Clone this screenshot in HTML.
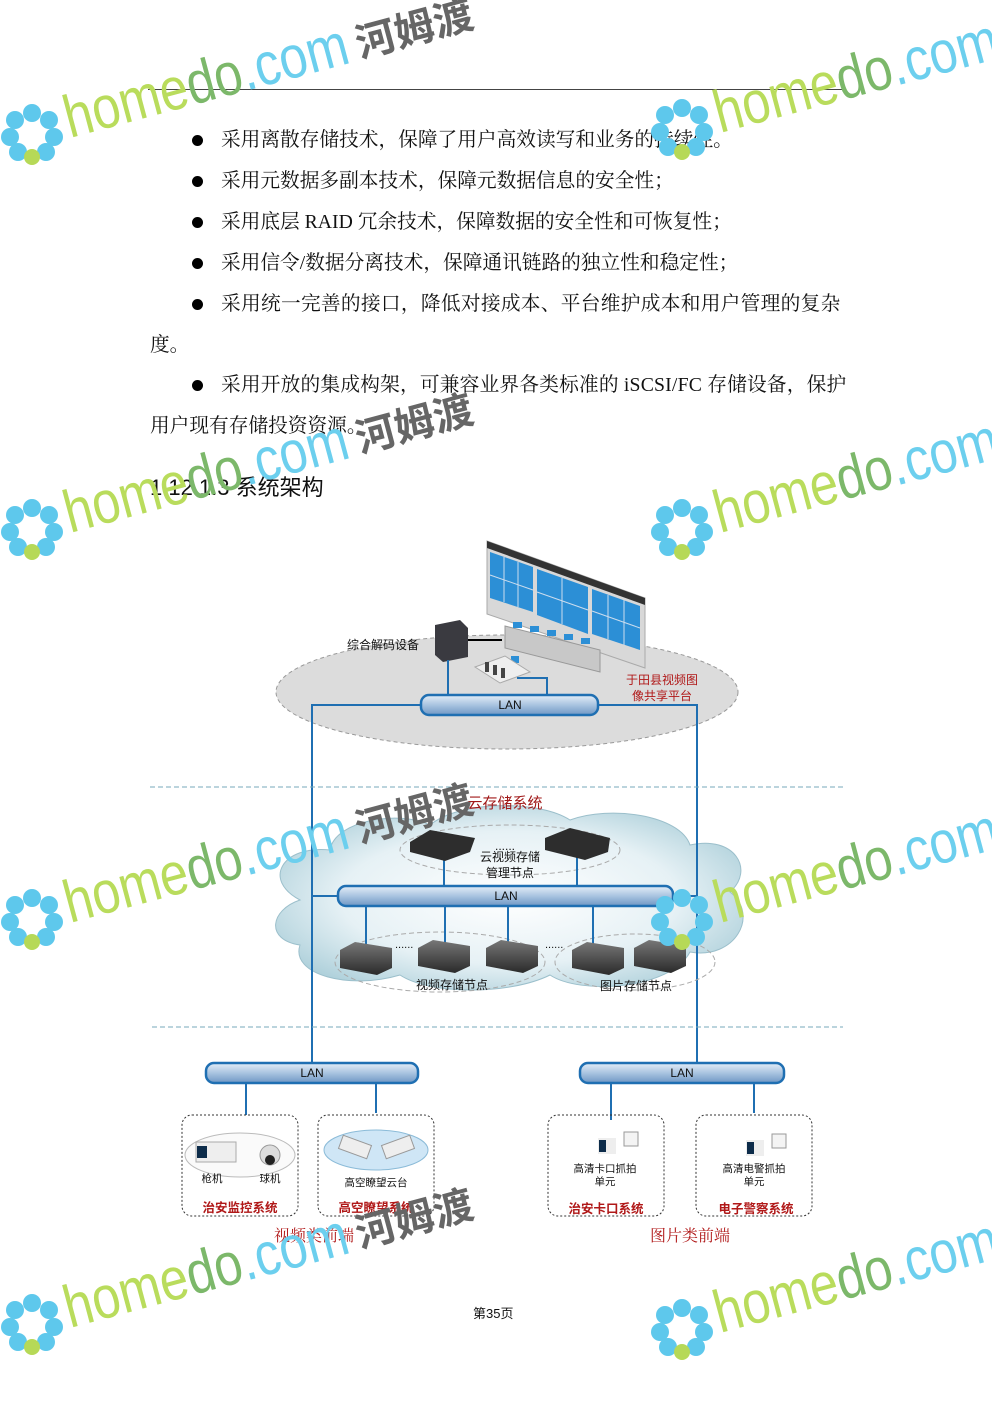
<!DOCTYPE html>
<html><head><meta charset="utf-8"><style>
html,body{margin:0;padding:0;background:#fff}
body{width:992px;height:1403px;position:relative;overflow:hidden;font-family:"Liberation Serif","Noto Serif CJK SC",serif;color:#111}
.l{position:absolute;white-space:nowrap;font-size:19.7px;line-height:24px}
.b{position:absolute;width:11px;height:11px;border-radius:50%;background:#000}
svg{position:absolute;left:0;top:0}
</style></head><body>
<div style="position:absolute;left:148px;top:89px;width:695px;height:1px;background:#444"></div>
<div class="b" style="left:192px;top:135px"></div><div class="l" style="left:221px;top:128px">采用离散存储技术，保障了用户高效读写和业务的持续性。</div>
<div class="b" style="left:192px;top:176px"></div><div class="l" style="left:221px;top:169px">采用元数据多副本技术，保障元数据信息的安全性；</div>
<div class="b" style="left:192px;top:217px"></div><div class="l" style="left:221px;top:210px">采用底层 RAID 冗余技术，保障数据的安全性和可恢复性；</div>
<div class="b" style="left:192px;top:258px"></div><div class="l" style="left:221px;top:251px">采用信令/数据分离技术，保障通讯链路的独立性和稳定性；</div>
<div class="b" style="left:192px;top:299px"></div><div class="l" style="left:221px;top:292px;letter-spacing:0.3px">采用统一完善的接口，降低对接成本、平台维护成本和用户管理的复杂</div>
<div class="l" style="left:150px;top:333px">度。</div>
<div class="b" style="left:192px;top:380px"></div><div class="l" style="left:221px;top:373px;letter-spacing:0.2px">采用开放的集成构架，可兼容业界各类标准的 iSCSI/FC 存储设备，保护</div>
<div class="l" style="left:150px;top:414px">用户现有存储投资资源。</div>
<div class="l" style="left:150px;top:474px;font-family:'Liberation Sans','Noto Sans CJK SC',sans-serif;font-size:22px;line-height:28px">1.12.1.3 系统架构</div>
<div style="position:absolute;left:473px;top:1303px;font-size:13px;font-family:'Liberation Sans','Noto Sans CJK SC',sans-serif">第35页</div>

<svg width="992" height="1403" viewBox="0 0 992 1403" font-family="Liberation Sans, Noto Sans CJK SC, sans-serif">
<defs>
<linearGradient id="pipe" x1="0" y1="0" x2="0" y2="1"><stop offset="0" stop-color="#e4eef8"/><stop offset="0.5" stop-color="#a9c4e0"/><stop offset="1" stop-color="#6f97c4"/></linearGradient>
<radialGradient id="cl" cx="0.5" cy="0.5" r="0.6"><stop offset="0" stop-color="#ffffff"/><stop offset="0.6" stop-color="#e6f1f5"/><stop offset="1" stop-color="#a9cdd8"/></radialGradient>
<linearGradient id="srv" x1="0" y1="0" x2="0" y2="1"><stop offset="0" stop-color="#777"/><stop offset="1" stop-color="#2a2a2a"/></linearGradient>
</defs>
<ellipse cx="507" cy="692" rx="231" ry="57" fill="#dcdcdc" stroke="#999" stroke-dasharray="4,3"/>
<polygon points="487,541 645,598 645,668 487,614" fill="#d8d8d8" stroke="#aaa"/>
<polygon points="487,541 645,598 645,605 487,548" fill="#333"/>
<g fill="#2c8fd6">
<polygon points="490,552 533,567 533,612 490,598"/>
<polygon points="537,569 588,587 588,634 537,615"/>
<polygon points="592,589 640,606 640,650 592,634"/>
</g>
<g stroke="#cde" stroke-width="1" fill="none">
<line x1="504" y1="557" x2="504" y2="602"/><line x1="518" y1="562" x2="518" y2="607"/>
<line x1="562" y1="578" x2="562" y2="624"/><line x1="608" y1="595" x2="608" y2="639"/><line x1="624" y1="600" x2="624" y2="645"/>
<line x1="490" y1="575" x2="533" y2="590"/><line x1="537" y1="592" x2="588" y2="610"/><line x1="592" y1="611" x2="640" y2="628"/>
</g>
<polygon points="505,626 600,650 600,672 505,648" fill="#c8c8c8" stroke="#999"/>
<g fill="#2c8fd6"><rect x="513" y="622" width="9" height="6"/><rect x="530" y="626" width="9" height="6"/><rect x="547" y="630" width="9" height="6"/><rect x="564" y="634" width="9" height="6"/><rect x="581" y="638" width="9" height="6"/><rect x="511" y="656" width="8" height="7"/></g>
<polygon points="475,667 505,656 530,672 500,683" fill="#eee" stroke="#aaa"/>
<g fill="#444"><rect x="485" y="662" width="4" height="10"/><rect x="493" y="665" width="4" height="10"/><rect x="501" y="668" width="4" height="10"/></g>
<polygon points="435,625 460,620 468,628 468,657 443,662 435,655" fill="#3a3a40"/>
<line x1="468" y1="640" x2="502" y2="640" stroke="#000" stroke-width="2"/>
<text x="347" y="649" font-size="12" fill="#111">综合解码设备</text>
<text x="662" y="684" font-size="12" fill="#b01818" text-anchor="middle">于田县视频图</text>
<text x="662" y="700" font-size="12" fill="#b01818" text-anchor="middle">像共享平台</text>
<g stroke="#1f6fb2" stroke-width="2" fill="none">
<line x1="448" y1="660" x2="448" y2="697"/>
<polyline points="517,678 547,678 547,697"/>
<polyline points="421,705 312,705 312,1064"/>
<polyline points="598,705 697,705 697,1064"/>
</g>
<line x1="150" y1="787" x2="843" y2="787" stroke="#7ab" stroke-dasharray="5,3"/>
<line x1="152" y1="1027" x2="843" y2="1027" stroke="#7ab" stroke-dasharray="5,3"/>
<path d="M300,900 C262,880 282,845 330,850 C335,820 400,810 430,825 C460,800 540,800 570,820 C610,805 680,815 690,845 C735,835 755,870 730,892 C760,915 735,960 690,952 C670,990 580,995 550,975 C510,995 430,995 400,975 C350,990 290,975 300,945 C265,940 270,910 300,900 Z" fill="url(#cl)" stroke="#9bbfcb"/>
<line x1="312" y1="840" x2="312" y2="1000" stroke="#1f6fb2" stroke-width="2"/>
<line x1="697" y1="840" x2="697" y2="1000" stroke="#1f6fb2" stroke-width="2"/>
<text x="505" y="808" font-size="15" fill="#a01818" text-anchor="middle">云存储系统</text>
<ellipse cx="510" cy="850" rx="110" ry="25" fill="none" stroke="#aaa" stroke-dasharray="5,3"/>
<ellipse cx="440" cy="962" rx="105" ry="30" fill="none" stroke="#aaa" stroke-dasharray="5,3"/>
<ellipse cx="635" cy="962" rx="80" ry="28" fill="none" stroke="#aaa" stroke-dasharray="5,3"/>
<g stroke="#1f6fb2" stroke-width="2">
<line x1="444" y1="855" x2="444" y2="888"/><line x1="577" y1="855" x2="577" y2="888"/>
<line x1="366" y1="905" x2="366" y2="945"/><line x1="445" y1="905" x2="445" y2="945"/><line x1="508" y1="905" x2="508" y2="945"/><line x1="593" y1="905" x2="593" y2="945"/>
<line x1="312" y1="896" x2="338" y2="896"/><line x1="673" y1="896" x2="697" y2="896"/>
</g>
<polygon points="410,842 430,830 475,838 470,852 445,861 410,852" fill="#2d2d2d"/>
<polygon points="545,838 570,828 610,838 608,852 585,860 545,850" fill="#2d2d2d"/>
<text x="510" y="861" font-size="12" fill="#111" text-anchor="middle">云视频存储</text>
<text x="510" y="877" font-size="12" fill="#111" text-anchor="middle">管理节点</text>
<text x="505" y="850" font-size="12" fill="#111" text-anchor="middle">......</text>
<g fill="url(#srv)">
<polygon points="340,950 355,942 392,948 392,968 377,975 340,968"/>
<polygon points="418,948 433,940 470,946 470,966 455,973 418,966"/>
<polygon points="486,948 501,940 538,946 538,966 523,973 486,966"/>
<polygon points="572,950 587,942 624,948 624,968 609,975 572,968"/>
<polygon points="634,948 649,940 686,946 686,966 671,973 634,966"/>
</g>
<text x="395" y="948" font-size="11" fill="#111">......</text>
<text x="545" y="948" font-size="11" fill="#111">......</text>
<text x="452" y="989" font-size="12" fill="#111" text-anchor="middle">视频存储节点</text>
<text x="636" y="990" font-size="12" fill="#111" text-anchor="middle">图片存储节点</text>
<g stroke="#1f6fb2" stroke-width="2.5" fill="url(#pipe)">
<rect x="421" y="695" width="177" height="20" rx="8"/>
<rect x="338" y="886" width="335" height="20" rx="8"/>
<rect x="206" y="1063" width="212" height="20" rx="8"/>
<rect x="580" y="1063" width="204" height="20" rx="8"/>
</g>
<g font-size="12" fill="#111" text-anchor="middle">
<text x="510" y="709">LAN</text><text x="506" y="900">LAN</text><text x="312" y="1077">LAN</text><text x="682" y="1077">LAN</text>
</g>
<g stroke="#1f6fb2" stroke-width="2">
<line x1="312" y1="1040" x2="312" y2="1063"/><line x1="697" y1="1040" x2="697" y2="1063"/>
<line x1="246" y1="1083" x2="246" y2="1115"/><line x1="376" y1="1083" x2="376" y2="1113"/>
<line x1="611" y1="1083" x2="611" y2="1120"/><line x1="754" y1="1083" x2="754" y2="1113"/>
</g>
<g fill="none" stroke="#333" stroke-dasharray="2,2">
<rect x="182" y="1115" width="116" height="101" rx="10"/>
<rect x="318" y="1115" width="116" height="101" rx="10"/>
<rect x="548" y="1115" width="116" height="101" rx="10"/>
<rect x="696" y="1115" width="116" height="101" rx="10"/>
</g>
<ellipse cx="240" cy="1155" rx="55" ry="22" fill="#fafafa" stroke="#bbb"/>
<ellipse cx="376" cy="1150" rx="52" ry="20" fill="#cfe6f6" stroke="#8bbbd8"/>
<rect x="196" y="1142" width="40" height="20" fill="#eee" stroke="#aaa"/><rect x="197" y="1146" width="10" height="12" fill="#0d2c4a"/>
<circle cx="270" cy="1155" r="10" fill="#ddd" stroke="#999"/><circle cx="270" cy="1160" r="5" fill="#222"/>
<rect x="340" y="1140" width="30" height="14" fill="#eee" stroke="#999" transform="rotate(20 355 1147)"/>
<rect x="383" y="1140" width="30" height="14" fill="#eee" stroke="#999" transform="rotate(-20 398 1147)"/>
<rect x="598" y="1138" width="18" height="16" fill="#eee"/><rect x="599" y="1140" width="7" height="12" fill="#0d2c4a"/><rect x="624" y="1132" width="14" height="14" fill="#f4f4f4" stroke="#999"/>
<rect x="746" y="1140" width="18" height="16" fill="#eee"/><rect x="747" y="1142" width="7" height="12" fill="#0d2c4a"/><rect x="772" y="1134" width="14" height="14" fill="#f4f4f4" stroke="#999"/>
<g font-size="10.5" fill="#111" text-anchor="middle">
<text x="212" y="1182">枪机</text><text x="270" y="1182">球机</text><text x="376" y="1186">高空瞭望云台</text>
<text x="605" y="1172">高清卡口抓拍</text><text x="605" y="1185">单元</text>
<text x="754" y="1172">高清电警抓拍</text><text x="754" y="1185">单元</text>
</g>
<g font-size="12.5" font-weight="bold" fill="#b01818" text-anchor="middle">
<text x="240" y="1212">治安监控系统</text><text x="376" y="1212">高空瞭望系统</text>
<text x="606" y="1213">治安卡口系统</text><text x="756" y="1213">电子警察系统</text>
</g>
<g font-size="16" fill="#b01818" text-anchor="middle" font-family="Liberation Serif, Noto Serif CJK SC, serif">
<text x="314" y="1241">视频类前端</text><text x="690" y="1241">图片类前端</text>
</g>

<!-- watermarks -->
<g transform="translate(0,0)">
<g fill="#5ec8ec"><circle cx="32" cy="113" r="9"/><circle cx="49" cy="120" r="9"/><circle cx="54" cy="137" r="9"/><circle cx="46" cy="152" r="9"/><circle cx="15" cy="120" r="9"/><circle cx="10" cy="137" r="9"/><circle cx="18" cy="152" r="9"/></g><circle cx="32" cy="157" r="8" fill="#b6d957"/>
<text transform="translate(70,138) rotate(-15)" font-size="60" textLength="292" lengthAdjust="spacingAndGlyphs"><tspan fill="#b9dc5c">home</tspan><tspan fill="#7cb86a">do</tspan><tspan fill="#6ccfee">.com</tspan></text>
<text transform="translate(360,58) rotate(-15)" font-size="40" font-weight="bold" fill="#666" font-family="Noto Sans CJK SC, sans-serif">河姆渡</text>
</g>
<g transform="translate(0,395)">
<g fill="#5ec8ec"><circle cx="32" cy="113" r="9"/><circle cx="49" cy="120" r="9"/><circle cx="54" cy="137" r="9"/><circle cx="46" cy="152" r="9"/><circle cx="15" cy="120" r="9"/><circle cx="10" cy="137" r="9"/><circle cx="18" cy="152" r="9"/></g><circle cx="32" cy="157" r="8" fill="#b6d957"/>
<text transform="translate(70,138) rotate(-15)" font-size="60" textLength="292" lengthAdjust="spacingAndGlyphs"><tspan fill="#b9dc5c">home</tspan><tspan fill="#7cb86a">do</tspan><tspan fill="#6ccfee">.com</tspan></text>
<text transform="translate(360,58) rotate(-15)" font-size="40" font-weight="bold" fill="#666" font-family="Noto Sans CJK SC, sans-serif">河姆渡</text>
</g>
<g transform="translate(0,785)">
<g fill="#5ec8ec"><circle cx="32" cy="113" r="9"/><circle cx="49" cy="120" r="9"/><circle cx="54" cy="137" r="9"/><circle cx="46" cy="152" r="9"/><circle cx="15" cy="120" r="9"/><circle cx="10" cy="137" r="9"/><circle cx="18" cy="152" r="9"/></g><circle cx="32" cy="157" r="8" fill="#b6d957"/>
<text transform="translate(70,138) rotate(-15)" font-size="60" textLength="292" lengthAdjust="spacingAndGlyphs"><tspan fill="#b9dc5c">home</tspan><tspan fill="#7cb86a">do</tspan><tspan fill="#6ccfee">.com</tspan></text>
<text transform="translate(360,58) rotate(-15)" font-size="40" font-weight="bold" fill="#666" font-family="Noto Sans CJK SC, sans-serif">河姆渡</text>
</g>
<g transform="translate(0,1190)">
<g fill="#5ec8ec"><circle cx="32" cy="113" r="9"/><circle cx="49" cy="120" r="9"/><circle cx="54" cy="137" r="9"/><circle cx="46" cy="152" r="9"/><circle cx="15" cy="120" r="9"/><circle cx="10" cy="137" r="9"/><circle cx="18" cy="152" r="9"/></g><circle cx="32" cy="157" r="8" fill="#b6d957"/>
<text transform="translate(70,138) rotate(-15)" font-size="60" textLength="292" lengthAdjust="spacingAndGlyphs"><tspan fill="#b9dc5c">home</tspan><tspan fill="#7cb86a">do</tspan><tspan fill="#6ccfee">.com</tspan></text>
<text transform="translate(360,58) rotate(-15)" font-size="40" font-weight="bold" fill="#666" font-family="Noto Sans CJK SC, sans-serif">河姆渡</text>
</g>
<g transform="translate(650,-5)">
<g fill="#5ec8ec"><circle cx="32" cy="113" r="9"/><circle cx="49" cy="120" r="9"/><circle cx="54" cy="137" r="9"/><circle cx="46" cy="152" r="9"/><circle cx="15" cy="120" r="9"/><circle cx="10" cy="137" r="9"/><circle cx="18" cy="152" r="9"/></g><circle cx="32" cy="157" r="8" fill="#b6d957"/>
<text transform="translate(70,138) rotate(-15)" font-size="60" textLength="292" lengthAdjust="spacingAndGlyphs"><tspan fill="#b9dc5c">home</tspan><tspan fill="#7cb86a">do</tspan><tspan fill="#6ccfee">.com</tspan></text>
</g>
<g transform="translate(650,395)">
<g fill="#5ec8ec"><circle cx="32" cy="113" r="9"/><circle cx="49" cy="120" r="9"/><circle cx="54" cy="137" r="9"/><circle cx="46" cy="152" r="9"/><circle cx="15" cy="120" r="9"/><circle cx="10" cy="137" r="9"/><circle cx="18" cy="152" r="9"/></g><circle cx="32" cy="157" r="8" fill="#b6d957"/>
<text transform="translate(70,138) rotate(-15)" font-size="60" textLength="292" lengthAdjust="spacingAndGlyphs"><tspan fill="#b9dc5c">home</tspan><tspan fill="#7cb86a">do</tspan><tspan fill="#6ccfee">.com</tspan></text>
</g>
<g transform="translate(650,785)">
<g fill="#5ec8ec"><circle cx="32" cy="113" r="9"/><circle cx="49" cy="120" r="9"/><circle cx="54" cy="137" r="9"/><circle cx="46" cy="152" r="9"/><circle cx="15" cy="120" r="9"/><circle cx="10" cy="137" r="9"/><circle cx="18" cy="152" r="9"/></g><circle cx="32" cy="157" r="8" fill="#b6d957"/>
<text transform="translate(70,138) rotate(-15)" font-size="60" textLength="292" lengthAdjust="spacingAndGlyphs"><tspan fill="#b9dc5c">home</tspan><tspan fill="#7cb86a">do</tspan><tspan fill="#6ccfee">.com</tspan></text>
</g>
<g transform="translate(650,1195)">
<g fill="#5ec8ec"><circle cx="32" cy="113" r="9"/><circle cx="49" cy="120" r="9"/><circle cx="54" cy="137" r="9"/><circle cx="46" cy="152" r="9"/><circle cx="15" cy="120" r="9"/><circle cx="10" cy="137" r="9"/><circle cx="18" cy="152" r="9"/></g><circle cx="32" cy="157" r="8" fill="#b6d957"/>
<text transform="translate(70,138) rotate(-15)" font-size="60" textLength="292" lengthAdjust="spacingAndGlyphs"><tspan fill="#b9dc5c">home</tspan><tspan fill="#7cb86a">do</tspan><tspan fill="#6ccfee">.com</tspan></text>
</g>
</svg>
</body></html>
